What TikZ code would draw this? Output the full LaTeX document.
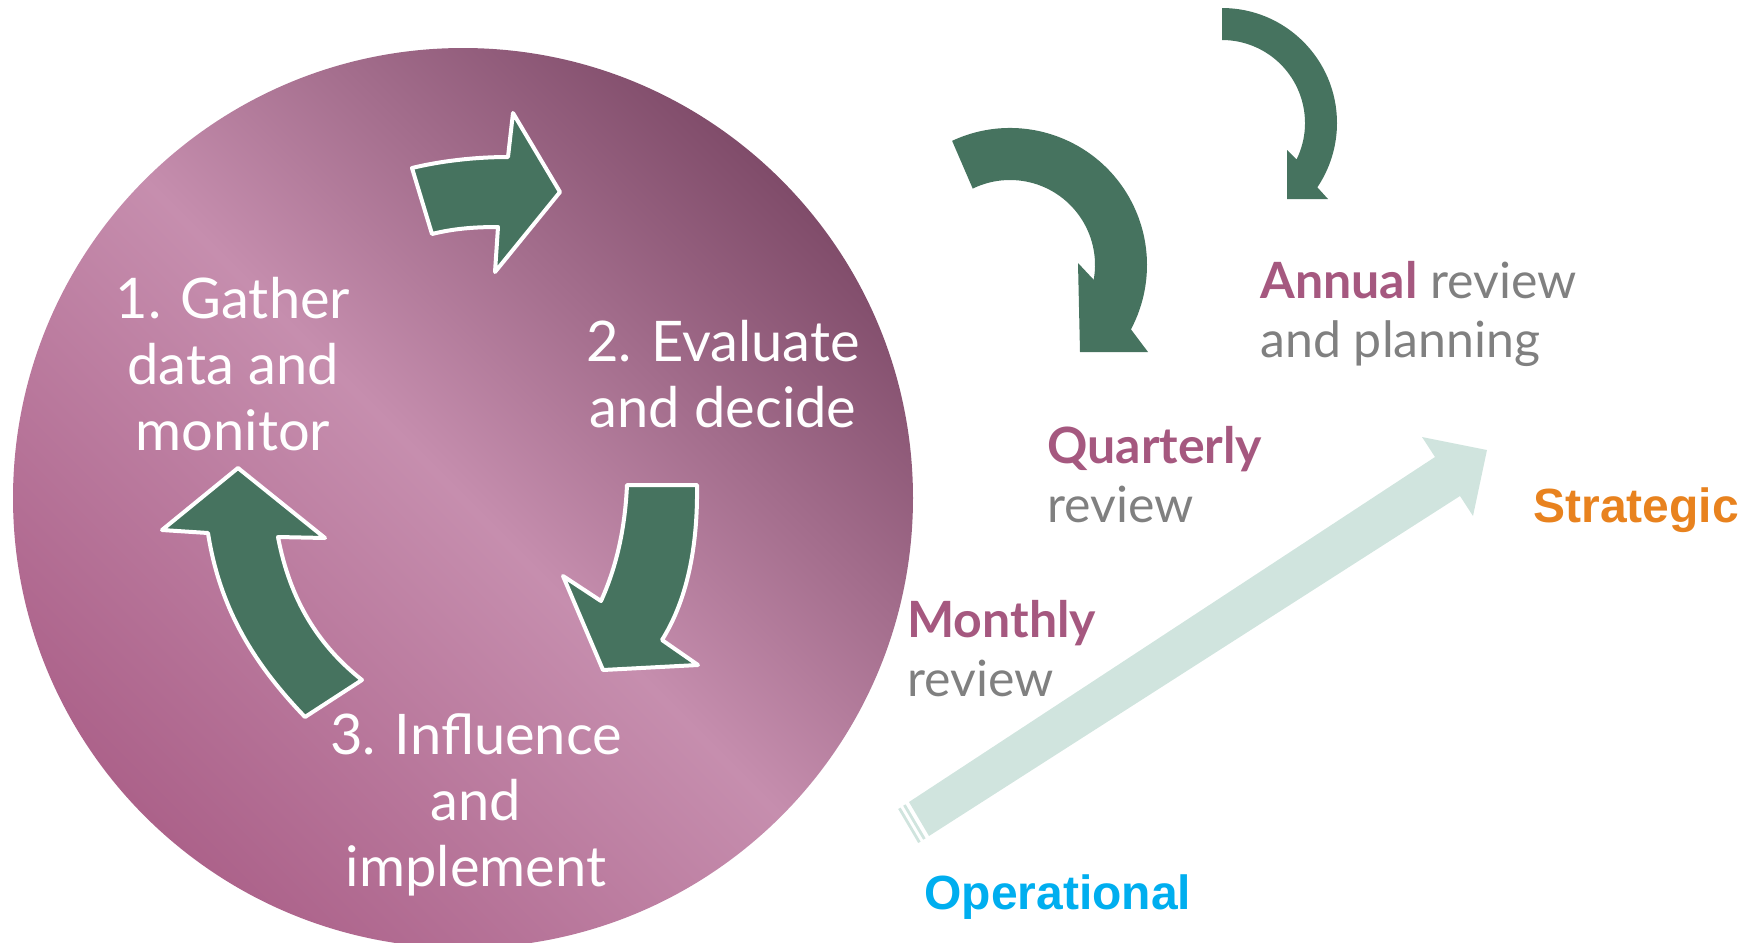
\documentclass[tikz,border=0pt]{standalone}
\usepackage{fontspec}
\setmainfont{Lato}
\newfontfamily\arialfont{Liberation Sans}
\usetikzlibrary{calc}
\definecolor{cyclegreen}{RGB}{70,115,95}
\definecolor{plum}{RGB}{165,88,127}
\definecolor{reviewgray}{RGB}{128,128,128}
\definecolor{stratorange}{RGB}{232,130,30}
\definecolor{opblue}{RGB}{0,174,239}
\definecolor{mintarrow}{RGB}{208,228,222}
\definecolor{circdark}{RGB}{128,76,106}
\definecolor{circlight}{RGB}{198,142,174}
\definecolor{circmid}{RGB}{172,98,138}
\def\plum(#1){\textcolor{plum}{\bfseries #1}}
\def\revgray(#1){\textcolor{reviewgray}{#1}}

\begin{document}
\begin{tikzpicture}[x=0.5pt,y=-0.5pt,
  cyclearrow/.style={fill=cyclegreen,draw=white,line width=2pt,line join=round},
  looparrow/.style={fill=cyclegreen},
  stripeline/.style={draw=mintarrow,line width=1.4pt},
  cycletext/.style={text=white,align=center,inner sep=0pt,font=\fontsize{28}{33}\selectfont},
  reviewtext/.style={align=left,anchor=north west,inner sep=0pt,font=\fontsize{25}{29.3}\selectfont},
  leveltext/.style={anchor=base west,inner sep=0pt,font=\arialfont\bfseries\fontsize{24}{28}\selectfont}]
\useasboundingbox (0,0) rectangle (1742,943);
% the cycle
\shade[top color=circdark, bottom color=circmid, middle color=circlight, shading angle=315] (463,498) circle (450);
\filldraw[cyclearrow] (412,168) .. controls (445,160) and (480,157) .. (508,157) -- (513,113) -- (560,192) -- (495,272) -- (498,227) .. controls (472,227) and (452,229) .. (432,234) -- cycle;
\filldraw[cyclearrow] (627,485) -- (697,485) .. controls (698,555) and (684,605) .. (662,640) -- (698,665) -- (603,670) -- (563,576) -- (601,601) .. controls (616,568) and (625,530) .. (627,485) -- cycle;
\filldraw[cyclearrow] (238,468) -- (325,538) -- (278,537) .. controls (290,600) and (318,645) .. (362,680) -- (305,717) .. controls (255,665) and (220,610) .. (208,533) -- (162,530) -- cycle;
\node[cycletext] (gather) at (233,364) {1. Gather\\data and\\monitor};
\node[cycletext] (evaluate) at (723,374) {2. Evaluate\\and decide};
\node[cycletext] (influence) at (476,805) {3. Influence\\and\\implement};
% review loops
\coordinate (qc) at (1010,265);
\coordinate (ac) at (1222,123);
\fill[looparrow] ($(qc)+(-115:137)$) arc (-115:28:137) -- (1148,352) -- (1080,352) -- (1078,263) -- ($(qc)+(10:85)$) arc (10:-116:85) -- cycle;
\fill[looparrow] ($(ac)+(-90:115)$) arc (-90:34:115) -- (1328,199) -- (1287,199) -- (1287,150) -- ($(ac)+(26:83)$) arc (26:-90:83) -- cycle;
\node[reviewtext] (annual) at (1260,261) {\plum(Annual) \revgray(review)\\\revgray(and planning)};
\node[reviewtext] (quarterly) at (1047,426) {\plum(Quarterly)\\\revgray(review)};
\node[reviewtext] (monthly) at (907,600) {\plum(Monthly)\\\revgray(review)};
% operational -> strategic
\coordinate (tailA) at (909,802);
\coordinate (tailB) at (929,836);
\fill[mintarrow] (tailA) -- (1435,457) -- (1422,437) -- (1487,450) -- (1473,516) -- (1460,496) -- (tailB) -- cycle;
\draw[stripeline] ($(tailA)+(-4.6,3)$) -- ($(tailB)+(-4.6,3)$);
\draw[stripeline] ($(tailA)+(-9.6,6.3)$) -- ($(tailB)+(-9.6,6.3)$);
\node[leveltext, text=stratorange] (strategic) at (1533,522) {Strategic};
\node[leveltext, text=opblue] (operational) at (924,909) {Operational};
\end{tikzpicture}
\end{document}
